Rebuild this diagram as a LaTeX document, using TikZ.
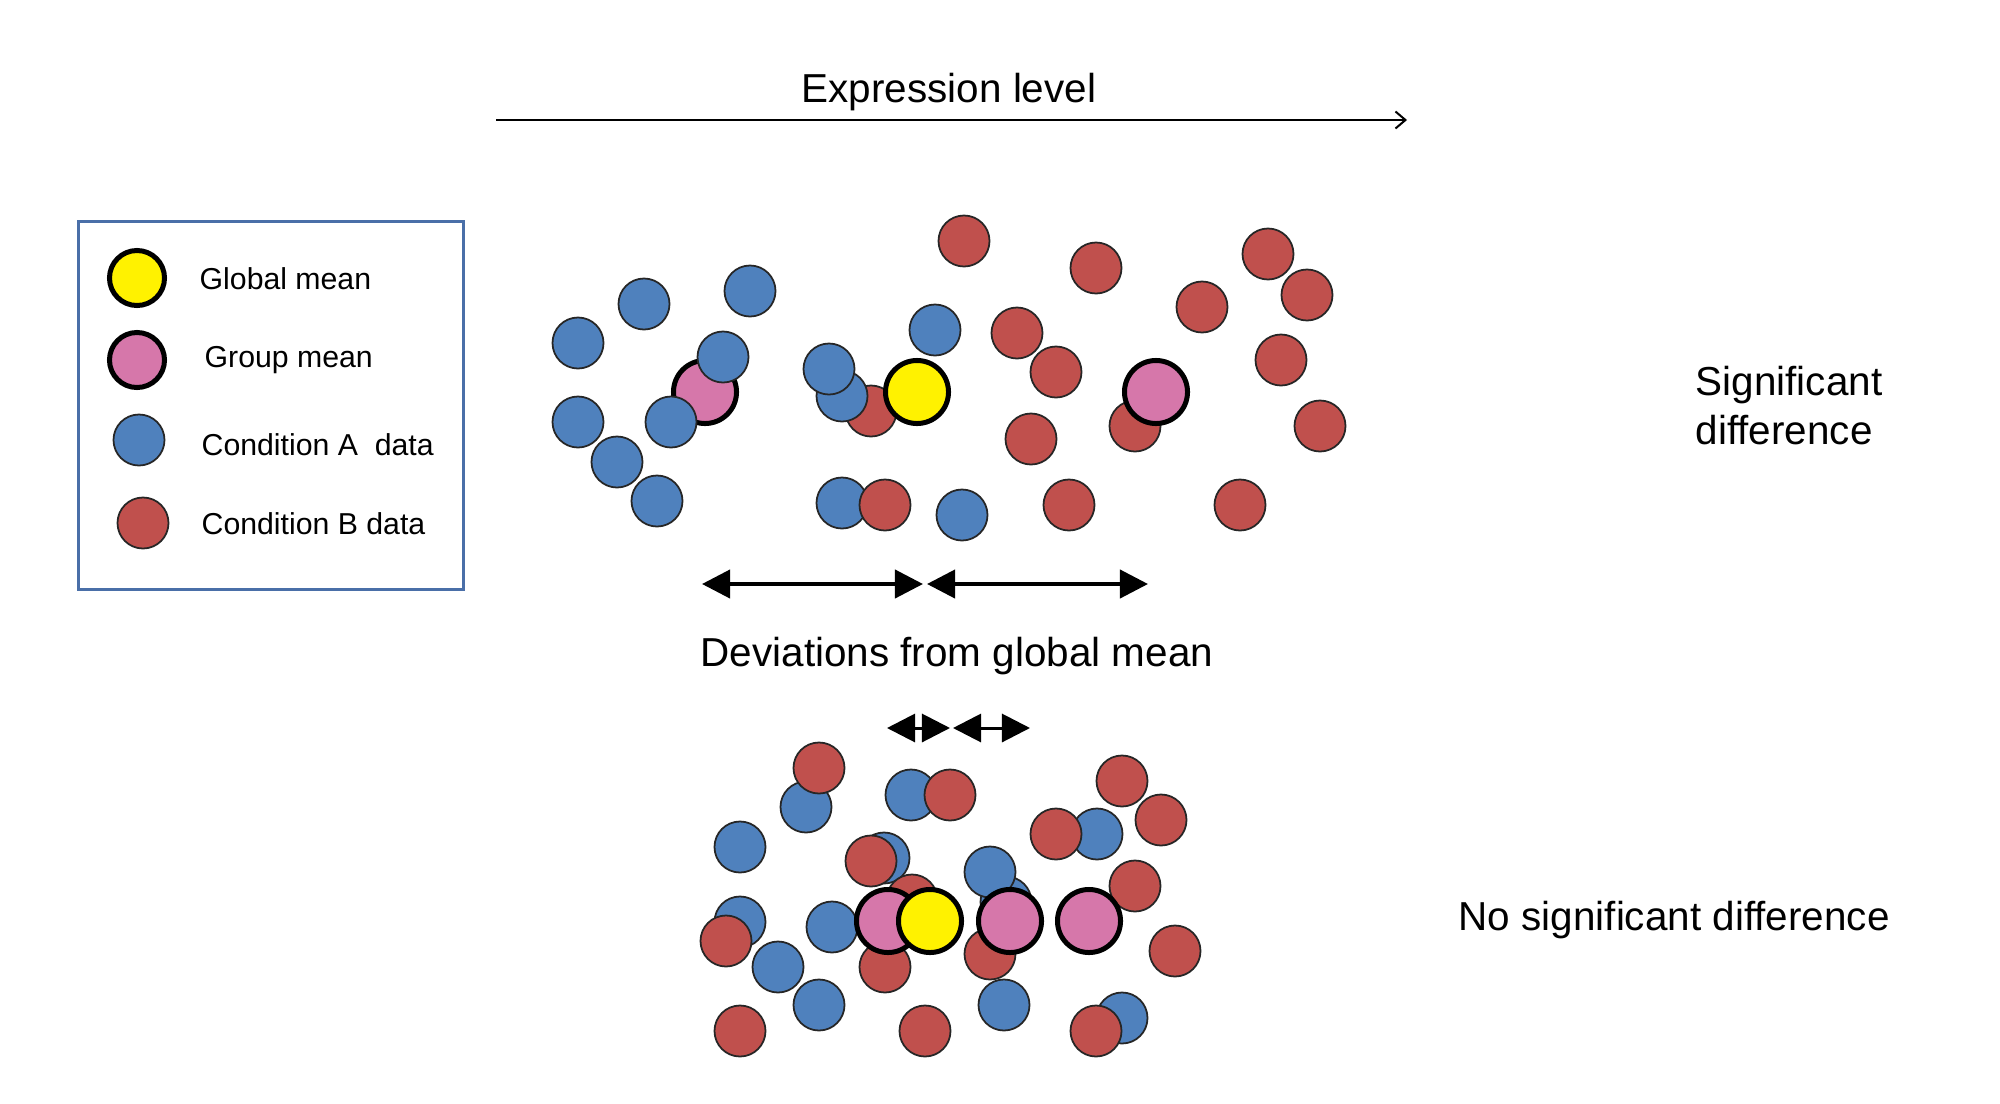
\documentclass[tikz,border=0pt]{standalone}
\usepackage{fontspec}
\setmainfont{Liberation Sans}
\usetikzlibrary{arrows.meta}
\definecolor{cA}{HTML}{4F81BD}
\definecolor{cB}{HTML}{C0504D}
\definecolor{cPink}{HTML}{D677AA}
\definecolor{cLeg}{HTML}{4A6FA8}
\begin{document}
\begin{tikzpicture}[x=0.01cm,y=-0.01cm,
  ptA/.style={circle,draw=black!85,line width=0.5pt,fill=cA,minimum size=0.51cm,inner sep=0},
  ptB/.style={ptA,fill=cB},
  gmean/.style={circle,draw=black,line width=0.05cm,fill=yellow,minimum size=0.63cm,inner sep=0},
  grpmean/.style={gmean,fill=cPink},
  maintxt/.style={font=\fontsize{11.5pt}{14pt}\selectfont,inner sep=0},
  legtxt/.style={font=\fontsize{8.6pt}{10pt}\selectfont,inner sep=0,anchor=base west},
  devarrow/.style={line width=0.04cm,{Triangle[length=0.28cm,width=0.28cm]}-{Triangle[length=0.28cm,width=0.28cm]}},
  smallarrow/.style={devarrow,line width=0.03cm}]
\path[use as bounding box] (0,0) rectangle (2000,1103);

% ---------- axis ----------
\node[maintxt,anchor=base] (xlabel) at (949,102) {Expression level};
\coordinate (axL) at (496,120);
\coordinate (axR) at (1407,120);
\draw[line width=0.02cm,-{Straight Barb[length=0.1cm,width=0.17cm]}] (axL) -- (axR);

% ---------- legend ----------
\node[draw=cLeg,line width=0.03cm,minimum width=3.85cm,minimum height=3.68cm,anchor=north west,inner sep=0] (legend) at (77,220) {};
\node[gmean,minimum size=0.55cm] (lg1) at (137,278) {};
\node[grpmean,minimum size=0.55cm] (lg2) at (137,360) {};
\node[ptA] (lg3) at (139,440) {};
\node[ptB] (lg4) at (143,523) {};
\node[legtxt] (lt1) at (199,289) {Global mean};
\node[legtxt] (lt2) at (204,367) {Group mean};
\node[legtxt] (lt3) at (201,455) {Condition A\ \ data};
\node[legtxt] (lt4) at (201,534) {Condition B data};

% ---------- upper cluster ----------
\node[ptB] (ub0) at (871,411) {};
\node[grpmean] (ugA) at (705,392) {};
\foreach \x/\y [count=\i] in {578/343,644/304,750/291,723/357,578/422,671/422,617/462,657/501,842/396,829/369,935/330,842/503,962/515}
  \node[ptA] (ua\i) at (\x,\y) {};
\foreach \x/\y [count=\i] in {885/505,964/241,1096/268,1268/254,1307/295,1202/307,1017/333,1056/372,1135/426,1281/360,1320/426,1031/439,1069/505,1240/505}
  \node[ptB] (ub\i) at (\x,\y) {};
\node[gmean] (ug) at (917,392) {};
\node[grpmean] (ugB) at (1156,392) {};

\node[maintxt,anchor=base west] (sig1) at (1695,395) {Significant};
\node[maintxt,anchor=base west] (sig2) at (1695,444) {difference};

% ---------- deviation arrows ----------
\coordinate (d1) at (702,584);
\coordinate (d2) at (923,584);
\coordinate (d3) at (927,584);
\coordinate (d4) at (1148,584);
\draw[devarrow] (d1) -- (d2);
\draw[devarrow] (d3) -- (d4);
\node[maintxt,anchor=base west] (devlabel) at (700,666) {Deviations from global mean};
\coordinate (s1) at (887,728);
\coordinate (s2) at (950,728);
\coordinate (s3) at (953,728);
\coordinate (s4) at (1030,728);
\draw[smallarrow] (s1) -- (s2);
\draw[smallarrow] (s3) -- (s4);

% ---------- lower cluster ----------
\foreach \x/\y [count=\i] in {806/807,911/795,740/847,1097/834,884/858,1006/902,990/872,740/922,832/927,778/967,819/1005,1004/1005,1122/1018}
  \node[ptA] (la\i) at (\x,\y) {};
\foreach \x/\y [count=\i] in {912/900,819/768,950/795,1122/781,1161/820,1056/834,871/861,1135/886,726/941,885/967,990/954,1175/951,740/1031,925/1031,1096/1031}
  \node[ptB] (lb\i) at (\x,\y) {};
\node[grpmean] (lgA) at (888,921) {};
\node[gmean] (lg) at (930,921) {};
\node[grpmean] (lgB) at (1010,921) {};
\node[grpmean] (lgC) at (1089,921) {};

\node[maintxt,anchor=base west] (nosig) at (1458,930) {No significant difference};
\end{tikzpicture}
\end{document}
